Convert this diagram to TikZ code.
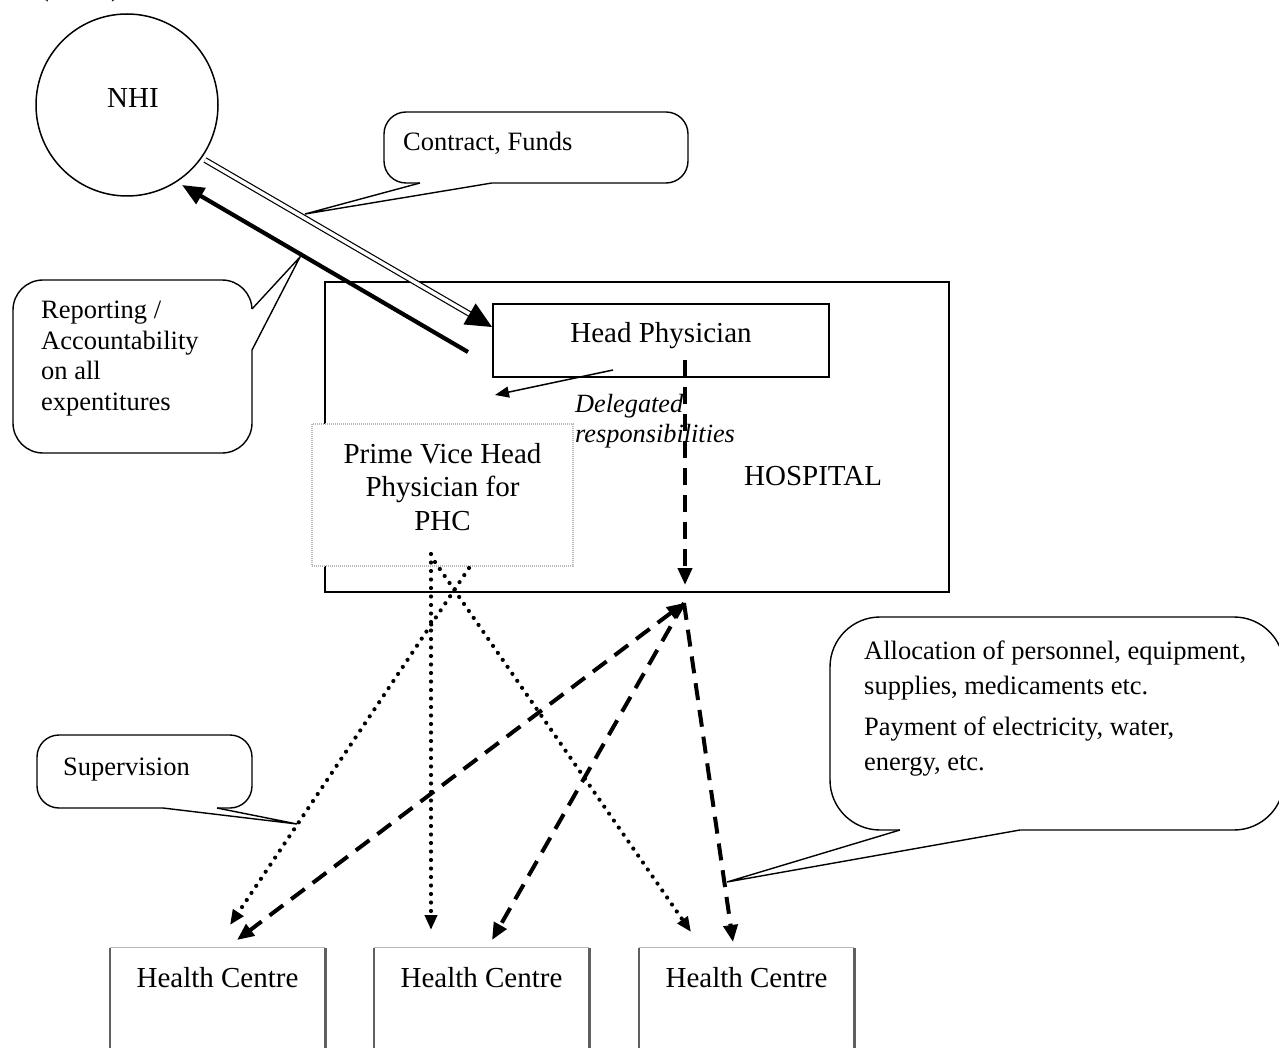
\documentclass[tikz,border=0pt]{standalone}
\usepackage{fontspec}
\setmainfont{Liberation Serif}
\usetikzlibrary{arrows.meta}
\newcommand\mytail[5]{%
  \fill[white] ([#4]#2) -- ([#4]#3) -- ([#5]#3) -- (#1) -- ([#5]#2) -- cycle;
  \draw[tailline] (#2) -- (#1) -- (#3);}
\begin{document}
\begin{tikzpicture}[x=1pt,y=-1pt,
  boxtxt/.style={font=\fontsize{29}{33.5}\selectfont},
  calltxt/.style={font=\fontsize{26.5}{30.5}\selectfont},
  callbox/.style={draw, line width=1.4pt, fill=white, rounded corners=#1, inner sep=0pt},
  callbox/.default=22pt,
  tailline/.style={line width=1.4pt},
  plainbox/.style={draw, line width=1.5pt, inner sep=0pt},
  hcbox/.style={inner sep=0pt, minimum width=215pt, text height=39pt, text depth=73pt, boxtxt},
  hcside/.style={draw=gray!75!black, line width=2.6pt},
  hctop/.style={draw=gray!55, line width=1pt},
  dotarrow/.style={line width=4.2pt, line cap=round, dash pattern=on 0pt off 8.5pt, -{Triangle[length=15pt,width=12pt]}},
  dasharrow/.style={line width=4pt, dash pattern=on 17pt off 10pt, -{Triangle[length=17pt,width=14pt]}},
]
\useasboundingbox (0,0) rectangle (1279,1048);
\clip (0,0) rectangle (1279,1048);
\fill[white] (0,0) rectangle (1279,1048);

% cut-off caption at the top
\node[calltxt, anchor=base west, inner sep=0pt] (paren) at (40,-3) {(\hspace{62pt})};

% hospital
\node[draw, line width=2.2pt, minimum width=624pt, minimum height=310pt, inner sep=0pt] (hosp) at (637,437) {};
\node[boxtxt, anchor=base west, inner sep=0pt] (hosptxt) at (744,485) {HOSPITAL};

% head physician
\node[plainbox, fill=white, minimum width=336pt, text height=39pt, text depth=34pt, boxtxt] (hp) at (661,340.5) {Head Physician};

% prime vice head physician
\node[draw=gray!55, line width=1.2pt, dash pattern=on 1pt off 1pt, fill=white, minimum width=261pt, minimum height=142pt, inner sep=0pt] (pv) at (442.5,495) {};
\node[boxtxt, align=center, anchor=north, inner sep=0pt] (pvtxt) at (442.5,443) {Prime Vice Head\\Physician for\\PHC};

% delegated responsibilities
\node[font={\fontsize{26.3}{30}\selectfont\itshape}, align=left, anchor=north west, inner sep=0pt] (deltxt) at (575,394) {Delegated\\responsibilities};

% health centres
\node[hcbox] (hc1) at (217.5,1004) {Health Centre};
\node[hcbox] (hc2) at (481.5,1004) {Health Centre};
\node[hcbox] (hc3) at (746.5,1004) {Health Centre};
\foreach \h in {hc1,hc2,hc3}{
  \draw[hctop] (\h.north west) -- (\h.north east);
  \draw[hcside] (\h.north west) -- (\h.south west) (\h.north east) -- (\h.south east);
}

% NHI
\node[circle, draw, line width=1.5pt, minimum size=182pt, inner sep=0pt] (nhi) at (127,105) {};
\node[boxtxt, anchor=base west, inner sep=0pt] (nhitxt) at (107,108) {NHI};

% callout: contract, funds
\node[callbox=22pt, minimum width=304pt, minimum height=71pt] (cf) at (536,147.5) {};
\coordinate (cfTip) at (305,214); \coordinate (cfR1) at (420,183); \coordinate (cfR2) at (492,183);
\mytail{cfTip}{cfR1}{cfR2}{yshift=2pt}{yshift=-1pt}
\node[calltxt, anchor=base west, inner sep=0pt] (cftxt) at (403,151) {Contract, Funds};

% callout: reporting
\node[callbox=30pt, minimum width=239pt, minimum height=173pt] (rep) at (132.5,366.5) {};
\coordinate (repTip) at (300,257); \coordinate (repR1) at (252,309); \coordinate (repR2) at (252,350);
\mytail{repTip}{repR1}{repR2}{xshift=-2pt}{xshift=1pt}
\node[calltxt, align=left, anchor=north west, inner sep=0pt] (reptxt) at (41,301) {Reporting /\\Accountability\\on all\\expentitures};

% callout: supervision
\node[callbox=22pt, minimum width=215pt, minimum height=73pt] (sup) at (144.5,771.5) {};
\coordinate (supTip) at (297,824); \coordinate (supR1) at (163,808); \coordinate (supR2) at (217,808);
\mytail{supTip}{supR1}{supR2}{yshift=2pt}{yshift=-1pt}
\node[calltxt, anchor=base west, inner sep=0pt] (suptxt) at (63,775) {Supervision};

% callout: allocation
\node[callbox=50pt, minimum width=454pt, minimum height=213pt] (alloc) at (1057,723.5) {};
\coordinate (alTip) at (727,882); \coordinate (alR1) at (900,830); \coordinate (alR2) at (1020,830);
\mytail{alTip}{alR1}{alR2}{yshift=2pt}{yshift=-1pt}
\node[font=\fontsize{26.5}{35}\selectfont, align=left, anchor=north west, inner sep=0pt] (altxt) at (864,641) {Allocation of personnel, equipment,\\supplies, medicaments etc.\\[6pt]Payment of electricity, water,\\energy, etc.};

% NHI <-> head physician
\coordinate (dblS) at (205,160); \coordinate (dblE) at (492,327);
\draw[line width=1.2pt, double=white, double distance=3.5pt, -{Triangle[length=26pt,width=24pt]}] (dblS) -- (dblE);
\coordinate (thS) at (468,352); \coordinate (thE) at (182,185);
\draw[line width=4.2pt, -{Triangle[length=22pt,width=18pt]}] (thS) -- (thE);

% delegated arrow
\coordinate (dgS) at (613,370); \coordinate (dgE) at (495,395);
\draw[line width=1.5pt, -{Triangle[length=14pt,width=11pt]}] (dgS) -- (dgE);

% hospital internal dashed arrow
\coordinate (vS) at (685,360); \coordinate (vE) at (685,585);
\draw[dasharrow] (vS) -- (vE);

% dashed arrows to health centres
\coordinate (P) at (684,603);
\coordinate (e1) at (237,940); \coordinate (e2) at (492,940); \coordinate (e3) at (733,942);
\draw[dasharrow, {Triangle[length=17pt,width=14pt]}-{Triangle[length=17pt,width=14pt]}] (P) -- (e1);
\draw[dasharrow] (P) -- (e2);
\draw[dasharrow] (P) -- (e3);

% dotted supervision arrows
\coordinate (d1S) at (431,554); \coordinate (d1E) at (431,930);
\coordinate (d2S) at (435,562); \coordinate (d2E) at (691,932);
\coordinate (d3S) at (469,568); \coordinate (d3E) at (230,925);
\draw[dotarrow] (d1S) -- (d1E);
\draw[dotarrow] (d2S) -- (d2E);
\draw[dotarrow] (d3S) -- (d3E);
\end{tikzpicture}
\end{document}
